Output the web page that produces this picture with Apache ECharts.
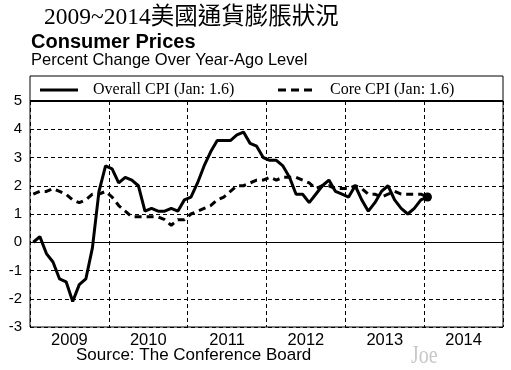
<!DOCTYPE html>
<html><head><meta charset="utf-8">
<script src="https://cdn.jsdelivr.net/npm/echarts@6/dist/echarts.min.js"></script>
<style>html,body{margin:0;padding:0;background:#fff}#c{width:511px;height:370px}</style>
</head><body><div id="c"></div>
<script>
var years = ['2009','2010','2011','2012','2013','2014'];
var yTicks = [-3,-2,-1,0,1,2,3,4,5];
// monthly, Jan 2009 .. Jan 2014
var overallCPI = [
 0.0,0.2,-0.4,-0.7,-1.3,-1.4,-2.1,-1.5,-1.3,-0.2,1.8,2.7,
 2.6,2.1,2.3,2.2,2.0,1.1,1.2,1.1,1.1,1.2,1.1,1.5,
 1.6,2.1,2.7,3.2,3.6,3.6,3.6,3.8,3.9,3.5,3.4,3.0,
 2.9,2.9,2.7,2.3,1.7,1.7,1.4,1.7,2.0,2.2,1.8,1.7,
 1.6,2.0,1.5,1.1,1.4,1.8,2.0,1.5,1.2,1.0,1.2,1.5,
 1.6];
var coreCPI = [
 1.7,1.8,1.8,1.9,1.8,1.7,1.5,1.4,1.5,1.7,1.7,1.8,
 1.6,1.3,1.1,0.9,0.9,0.9,0.9,0.9,0.8,0.6,0.8,0.8,
 1.0,1.1,1.2,1.3,1.5,1.6,1.8,2.0,2.0,2.1,2.2,2.2,
 2.3,2.2,2.3,2.3,2.3,2.2,2.1,1.9,2.0,2.0,1.9,1.9,
 1.9,2.0,1.9,1.7,1.7,1.6,1.7,1.8,1.7,1.7,1.7,1.7,
 1.6];
var overallName = 'Overall CPI (Jan: 1.6)';
var coreName = 'Core CPI (Jan: 1.6)';

function toPts(arr, markLast){
  return arr.map(function(v,i){
    var p = {value:[i+0.5, v]};
    if (markLast && i === arr.length-1) { p.symbol='circle'; p.symbolSize=9; p.itemStyle={color:'#000'}; }
    return p;
  });
}

var chart = echarts.init(document.getElementById('c'), null, {renderer:'canvas'});
var sans = 'Liberation Sans, Arial, sans-serif';
var serif = 'Liberation Serif, Times New Roman, serif';
chart.setOption({
  animation:false,
  backgroundColor:'#fff',
  title:[
    {text:'2009~2014美國通貨膨脹狀況', left:44, top:6, padding:0,
     textStyle:{fontFamily:'Liberation Serif, Noto Sans CJK TC, serif', fontSize:23.5, fontWeight:'normal', color:'#000'}},
    {text:'Consumer Prices', left:31, top:32, padding:0,
     textStyle:{fontFamily:sans, fontSize:20, fontWeight:'bold', color:'#000'}},
    {text:'Percent Change Over Year-Ago Level', left:31, top:52, padding:0,
     textStyle:{fontFamily:sans, fontSize:16.5, fontWeight:'normal', color:'#000'}},
    {text:'Source: The Conference Board', left:76, top:347, padding:0,
     textStyle:{fontFamily:sans, fontSize:17, fontWeight:'normal', color:'#000'}}
  ],
  legend:[
    {data:[overallName], left:40, top:82, padding:0, itemWidth:38, itemHeight:3, selectedMode:false,
     icon:'path://M0,0h38v3h-38z',
     textStyle:{fontFamily:serif, fontSize:16, color:'#000', padding:[0,0,0,10]}},
    {data:[coreName], left:278, top:82, padding:0, itemWidth:34, itemHeight:3, selectedMode:false,
     icon:'path://M0,0h8v3h-8z M13,0h8v3h-8z M26,0h8v3h-8z',
     textStyle:{fontFamily:serif, fontSize:16, color:'#000', padding:[0,0,0,13]}}
  ],
  grid:{left:30, right:8, top:101, bottom:43, show:true, borderColor:'#000', borderWidth:1, backgroundColor:'transparent'},
  xAxis:[
    {type:'value', position:'top', min:0, max:72, interval:12,
     axisLine:{show:false}, axisTick:{show:false}, axisLabel:{show:false},
     splitLine:{show:true, lineStyle:{color:'#000', width:1, type:[4,3]}}},
    {type:'category', position:'bottom', data:years, boundaryGap:true,
     axisLine:{show:false}, axisTick:{show:false}, splitLine:{show:false},
     axisLabel:{fontFamily:sans, fontSize:16.5, color:'#000', margin:5}}
  ],
  yAxis:{type:'value', min:yTicks[0], max:yTicks[yTicks.length-1], interval:1,
     axisLine:{show:false}, axisTick:{show:false},
     axisLabel:{fontFamily:sans, fontSize:15, color:'#000', margin:8},
     splitLine:{show:true, lineStyle:{color:'#000', width:1, type:[4,3]}}},
  graphic:[
    {type:'rect', shape:{x:30, y:76, width:473, height:25}, style:{fill:'none', stroke:'#000', lineWidth:1}, silent:true},
    {type:'text', x:411, y:344, scaleX:0.8, style:{text:'Joe', font:'25px "Liberation Serif"', fill:'#c8c8c8', verticalAlign:'top'}, silent:true}
  ],
  series:[
    {name:coreName, type:'line', xAxisIndex:0, data:toPts(coreCPI,false), symbol:'none',
     lineStyle:{color:'#000', width:3, type:[7,5]}, itemStyle:{color:'#000'}, z:3},
    {name:overallName, type:'line', xAxisIndex:0, data:toPts(overallCPI,true), symbol:'none',
     lineStyle:{color:'#000', width:3, type:'solid'}, itemStyle:{color:'#000'}, z:4,
     markLine:{silent:true, symbol:'none', label:{show:false},
       data:[{yAxis:0, lineStyle:{color:'#000', width:1, type:'solid'}},
             {yAxis:5, lineStyle:{color:'#000', width:2, type:'solid'}}]}}
  ]
});
</script></body></html>
